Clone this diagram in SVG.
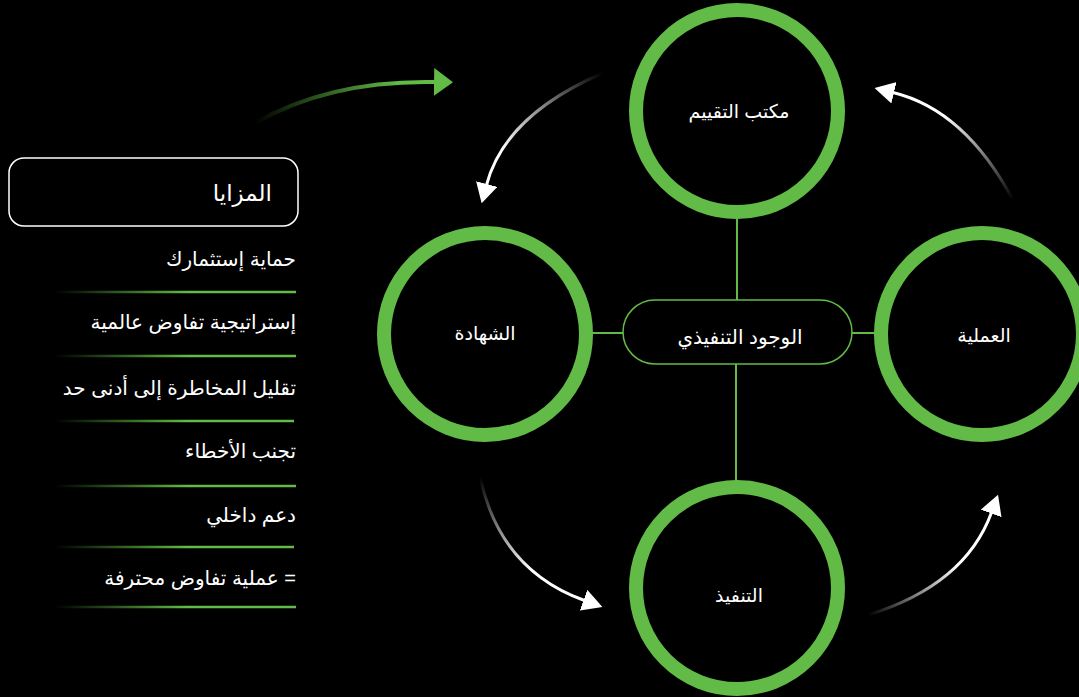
<svg xmlns="http://www.w3.org/2000/svg" width="1079" height="697" viewBox="0 0 1079 697">
<style>
.ring{fill:#000;stroke:#62bb46;stroke-width:14}
.lbl{fill:#fff;font-family:"Liberation Sans","DejaVu Sans",sans-serif;font-size:19px;text-anchor:middle}
.item{fill:#fff;font-family:"Liberation Sans","DejaVu Sans",sans-serif;font-size:20px;text-anchor:start}
.link{stroke:#62bb46;stroke-width:2;fill:none}
.sep{stroke:url(#sepg);stroke-width:2.5}
.warc{fill:none;stroke-width:3;marker-end:url(#wh)}
</style>
<defs>
<marker id="wh" viewBox="0 0 20 22" refX="1" refY="11" markerWidth="20" markerHeight="22" markerUnits="userSpaceOnUse" orient="auto"><path d="M0,0 L20,11 L0,22 Z" fill="#fff"/></marker>
<marker id="gh" viewBox="0 0 19 28" refX="1" refY="14" markerWidth="19" markerHeight="28" markerUnits="userSpaceOnUse" orient="auto"><path d="M0,0 L19,14 L0,28 Z" fill="#62bb46"/></marker>
<linearGradient id="sepg" gradientUnits="userSpaceOnUse" x1="55" y1="0" x2="296" y2="0"><stop offset="0" stop-color="#62bb46" stop-opacity="0"/><stop offset="0.55" stop-color="#62bb46"/><stop offset="1" stop-color="#62bb46"/></linearGradient>
<linearGradient id="ga" gradientUnits="userSpaceOnUse" x1="255" y1="123" x2="400" y2="85"><stop offset="0" stop-color="#62bb46" stop-opacity="0"/><stop offset="1" stop-color="#62bb46"/></linearGradient>
<linearGradient id="w1" gradientUnits="userSpaceOnUse" x1="603" y1="73" x2="510" y2="160"><stop offset="0" stop-color="#fff" stop-opacity="0"/><stop offset="1" stop-color="#fff"/></linearGradient>
<linearGradient id="w2" gradientUnits="userSpaceOnUse" x1="1013" y1="200" x2="945" y2="115"><stop offset="0" stop-color="#fff" stop-opacity="0"/><stop offset="1" stop-color="#fff"/></linearGradient>
<linearGradient id="w3" gradientUnits="userSpaceOnUse" x1="480" y1="477" x2="530" y2="570"><stop offset="0" stop-color="#fff" stop-opacity="0"/><stop offset="1" stop-color="#fff"/></linearGradient>
<linearGradient id="w4" gradientUnits="userSpaceOnUse" x1="868" y1="615" x2="960" y2="570"><stop offset="0" stop-color="#fff" stop-opacity="0"/><stop offset="1" stop-color="#fff"/></linearGradient>
</defs>
<rect width="1079" height="697" fill="#000"/>
<g id="connectors">
<line class="link" x1="737" y1="216" x2="737" y2="300"/>
<line class="link" x1="736" y1="364" x2="736" y2="483"/>
<line class="link" x1="590" y1="333" x2="623" y2="333"/>
<line class="link" x1="852" y1="333" x2="877" y2="333"/>
<path d="M255,123 Q330,80 435,82" fill="none" stroke="url(#ga)" stroke-width="4" marker-end="url(#gh)"/>
<path class="warc" stroke="url(#w1)" d="M603,73 Q505,115 486.5,185"/>
<path class="warc" stroke="url(#w2)" d="M1013,200 Q965,110 893,92.5"/>
<path class="warc" stroke="url(#w3)" d="M480,477 Q500,570 584.5,600.5"/>
<path class="warc" stroke="url(#w4)" d="M868,615 Q965,585 991.5,512.5"/>
</g>
<g id="node-top"><circle class="ring" cx="737" cy="111" r="101"/><text class="lbl" x="739" y="118" direction="rtl">مكتب التقييم</text></g>
<g id="node-right"><circle class="ring" cx="982" cy="334" r="101"/><text class="lbl" x="984" y="342" direction="rtl">العملية</text></g>
<g id="node-left"><circle class="ring" cx="485" cy="334" r="101"/><text class="lbl" x="485" y="340" direction="rtl">الشهادة</text></g>
<g id="node-bottom"><circle class="ring" cx="737" cy="588" r="101"/><text class="lbl" x="739" y="602" direction="rtl">التنفيذ</text></g>
<g id="node-center"><rect x="623" y="300" width="229" height="64" rx="32" fill="#000" stroke="#62bb46" stroke-width="1.5"/><text class="lbl" x="740" y="344" direction="rtl" style="font-size:20px">الوجود التنفيذي</text></g>
<g id="benefits">
<rect x="9" y="158" width="289" height="68" rx="15" fill="none" stroke="#fff" stroke-width="1.5"/>
<text class="item" x="272" y="201" direction="rtl" style="font-size:23px">المزايا</text>
<text class="item" x="296" y="266" direction="rtl">حماية إستثمارك</text>
<line class="sep" x1="55" y1="292" x2="296" y2="292"/>
<text class="item" x="296" y="329" direction="rtl">إستراتيجية تفاوض عالمية</text>
<line class="sep" x1="55" y1="356" x2="296" y2="356"/>
<text class="item" x="296" y="395" direction="rtl">تقليل المخاطرة إلى أدنى حد</text>
<line class="sep" x1="55" y1="421" x2="294" y2="421"/>
<text class="item" x="296" y="458" direction="rtl">تجنب الأخطاء</text>
<line class="sep" x1="55" y1="486" x2="296" y2="486"/>
<text class="item" x="296" y="522" direction="rtl">دعم داخلي</text>
<line class="sep" x1="55" y1="547" x2="294" y2="547"/>
<text class="item" x="296" y="585" direction="rtl">= عملية تفاوض محترفة</text>
<line class="sep" x1="55" y1="607" x2="296" y2="607"/>
</g>
</svg>
